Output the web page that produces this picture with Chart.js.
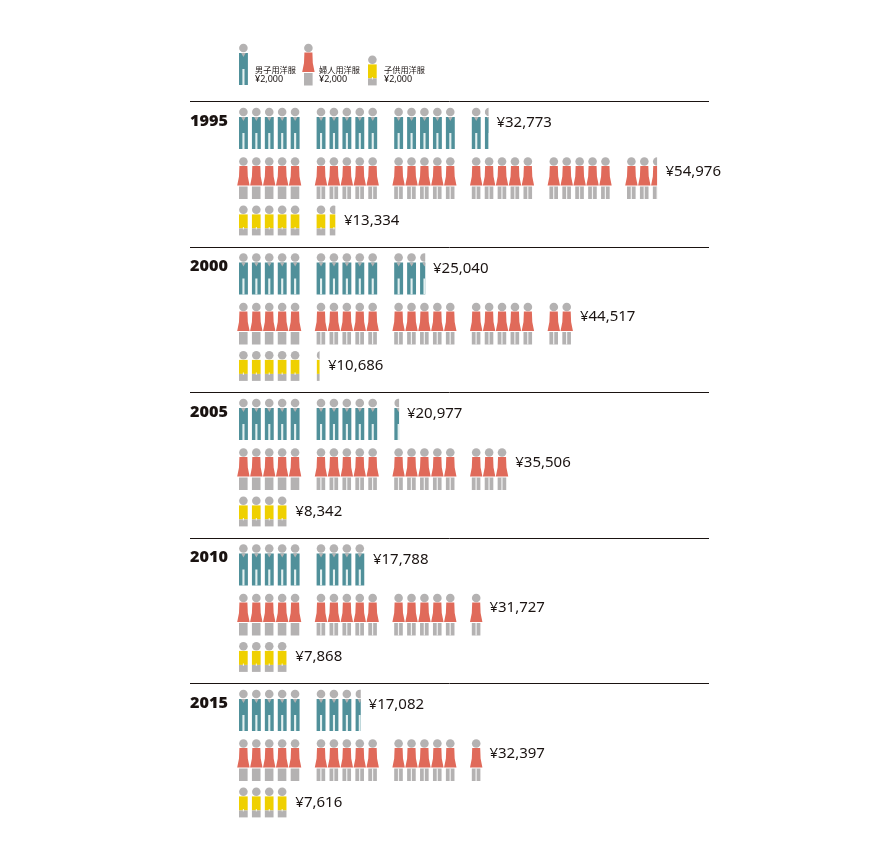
<!DOCTYPE html>
<html><head><meta charset="utf-8">
<style>html,body{margin:0;padding:0;background:#fff}canvas{display:block}</style>
<script src="https://cdn.jsdelivr.net/npm/chart.js@4"></script>
</head><body><canvas id="c" width="892" height="851"></canvas>
<script>
const years = ["1995","2000","2005","2010","2015"];
const mensWear = [32773,25040,20977,17788,17082];
const womensWear = [54976,44517,35506,31727,32397];
const kidsWear = [13334,10686,8342,7868,7616];
const legendNames = ["男子用洋服","婦人用洋服","子供用洋服"];
const legendValue = "¥2,000";
const UNIT = 2000;

const rowLabels = years.flatMap(y => [y+" 男子", y+" 婦人", y+" 子供"]);
const rowValues = years.flatMap((y,i) => [mensWear[i], womensWear[i], kidsWear[i]]);

const TEAL="#50909a", RED="#e06a5a", GREY="#b4b2b2", YEL="#efd000", INK="#1a1311";
const PITCH=12.92, GAP=13.0, FIG=9.6, PER=5;

class FigureScale extends Chart.LinearScale {
  figureLeft(i){ return this.left + i*PITCH + Math.floor(i/PER)*GAP; }
  getPixelForValue(v){
    const n=v/UNIT, i=Math.floor(n), f=n-i;
    if(f<0.3) return i>0 ? this.figureLeft(i-1)+FIG : this.left;
    if(f>=0.7) return this.figureLeft(i)+FIG;
    return this.figureLeft(i)+f*FIG;
  }
}
FigureScale.id='figure';
FigureScale.defaults=Chart.LinearScale.defaults;
Chart.register(FigureScale);

function head(ctx,cx,cy){ctx.fillStyle=GREY;ctx.beginPath();ctx.arc(cx,cy,4.3,0,Math.PI*2);ctx.fill();}
function man(ctx,x,y){
  head(ctx,x+4.4,y+4);
  ctx.fillStyle=TEAL;ctx.fillRect(x,y+9,8.9,32);
  ctx.fillStyle="#e4f0f0";ctx.fillRect(x+3.4,y+25,2.1,16);
  ctx.fillStyle=GREY;ctx.beginPath();ctx.moveTo(x+2.2,y+9);ctx.lineTo(x+6.7,y+9);ctx.lineTo(x+4.45,y+13);ctx.closePath();ctx.fill();
}
function woman(ctx,x,y,split){
  head(ctx,x+4.4,y+4);
  ctx.fillStyle=RED;ctx.beginPath();
  ctx.moveTo(x+0.4,y+8.5);ctx.lineTo(x+8.4,y+8.5);ctx.lineTo(x+8.8,y+19);ctx.lineTo(x+10.6,y+28);
  ctx.lineTo(x-1.8,y+28);ctx.lineTo(x,y+19);ctx.closePath();ctx.fill();
  ctx.fillStyle=GREY;ctx.fillRect(x,y+29,8.6,12.5);
  if(split){ctx.fillStyle="#f2f2f2";ctx.fillRect(x+3.7,y+29,1.2,12.5);}
}
function kid(ctx,x,y){
  head(ctx,x+4.4,y+3.8);
  ctx.fillStyle=YEL;ctx.fillRect(x,y+8.4,8.7,14);
  ctx.fillStyle=GREY;ctx.fillRect(x,y+22.4,8.7,7);
  ctx.fillStyle="#f4f4f0";ctx.fillRect(x+3.9,y+21,1,2.4);
}
const DRAW=[man,woman,kid], ICON=[{l:0,w:10,dy:7,ty:15},{l:-1.8,w:12.4,dy:8,ty:14},{l:0,w:8.7,dy:8,ty:14.5}];

const pictogram={
  id:'pictogram',
  afterDatasetsDraw(chart){
    const ctx=chart.ctx, xs=chart.scales.x, ys=chart.scales.y, bars=chart.getDatasetMeta(0).data;
    const band=ys.getPixelForValue(1)-ys.getPixelForValue(0);
    ctx.save();
    years.forEach((y,k)=>{
      const top=ys.getPixelForValue(k*3)-band/2;
      ctx.strokeStyle=INK;ctx.lineWidth=1;ctx.beginPath();
      ctx.moveTo(xs.left-49,Math.round(top)+.5);ctx.lineTo(xs.right,Math.round(top)+.5);ctx.stroke();
      ctx.fillStyle=INK;ctx.font='900 16.2px "Noto Sans"';ctx.textAlign='left';ctx.textBaseline='middle';
      ctx.fillText(y,xs.left-49,top+20);
    });
    bars.forEach((bar,r)=>{
      const kind=r%3, v=rowValues[r], ic=ICON[kind], y=ys.getPixelForValue(r)-band/2+ic.dy;
      const n=Math.ceil(v/UNIT);
      for(let i=0;i<n;i++){
        const L=xs.figureLeft(i);
        if(bar.x<=L) continue;
        const frac=Math.min(1,(bar.x-L)/FIG);
        ctx.save();
        if(frac<1){ctx.beginPath();ctx.rect(L+ic.l,y-1,frac*ic.w,50);ctx.clip();}
        DRAW[kind](ctx,L,y,i>=PER);
        ctx.restore();
      }
      ctx.fillStyle=INK;ctx.font='15px "Noto Sans"';ctx.textAlign='left';ctx.textBaseline='middle';
      ctx.fillText("¥"+v.toLocaleString("en-US"),bar.x+8,y+ic.ty);
    });
    [[239,44],[304,44],[368,56]].forEach((p,k)=>{
      DRAW[k](ctx,p[0],p[1],false);
      const tx=[255,319,384][k];
      ctx.fillStyle=INK;ctx.textAlign='left';ctx.textBaseline='middle';
      ctx.font='8.2px "Noto Sans CJK JP"';ctx.fillText(legendNames[k],tx,70);
      ctx.font='9px "Noto Sans"';ctx.fillText(legendValue,tx,79.5);
    });
    ctx.restore();
  }
};

new Chart(document.getElementById('c'),{
  type:'bar',
  data:{labels:rowLabels,datasets:[{data:rowValues,backgroundColor:'rgba(0,0,0,0)',borderWidth:0,barPercentage:1,categoryPercentage:1}]},
  options:{
    indexAxis:'y',responsive:false,animation:false,devicePixelRatio:1,
    layout:{padding:{left:239,right:183,top:101,bottom:851-828.5}},
    plugins:{legend:{display:false},tooltip:{enabled:false},title:{display:false}},
    scales:{
      x:{type:'figure',min:0,max:60000,display:false,grid:{display:false}},
      y:{type:'category',display:false,grid:{display:false}}
    }
  },
  plugins:[pictogram]
});
</script></body></html>
